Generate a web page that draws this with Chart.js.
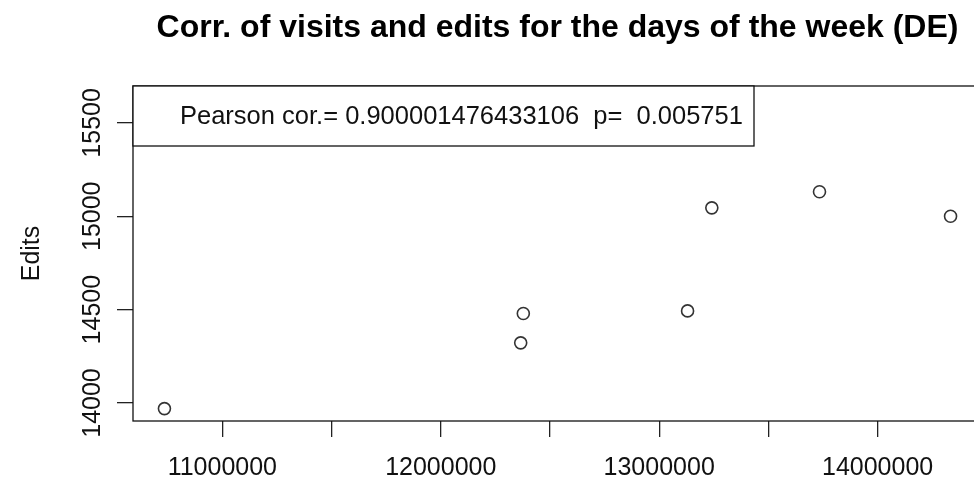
<!DOCTYPE html>
<html>
<head>
<meta charset="utf-8">
<script src="https://cdn.jsdelivr.net/npm/chart.js@4"></script>
<style>
  html, body { margin: 0; padding: 0; background: #fff; overflow: hidden; }
  #wrap { width: 1000px; height: 479px; }
</style>
</head>
<body>
<div id="wrap"><canvas id="chart-corr" width="1000" height="479"></canvas></div>
<script>
// Data
var visits = [10735000, 12366000, 12378000, 13130000, 13241000, 13734000, 14334000];
var edits  = [13970, 14322, 14479, 14493, 15045, 15131, 15000];
var xTickMarks = [11000000, 11500000, 12000000, 12500000, 13000000, 13500000, 14000000];
var xTicks = [11000000, 12000000, 13000000, 14000000];
var yTicks = [14000, 14500, 15000, 15500];
var titleText  = 'Corr. of visits and edits for the days of the week (DE)';
var legendText = 'Pearson cor.= 0.900001476433106  p=  0.005751';
var yLabel = 'Edits';

// R style limits: 4% beyond the range, y with room for the legend
var xr = Math.max.apply(null, visits) - Math.min.apply(null, visits);
var xMin = Math.min.apply(null, visits) - 0.04 * xr;
var xMax = Math.max.apply(null, visits) + 0.04 * xr;
var yLo = Math.min.apply(null, edits), yHi = Math.max.apply(null, edits) + 500;
var yMin = yLo - 0.04 * (yHi - yLo);
var yMax = yHi + 0.04 * (yHi - yLo);

var FONT = '"Liberation Sans", Arial, sans-serif';

var rPlot = {
  id: 'rPlot',
  afterDraw: function(chart) {
    var ctx = chart.ctx, a = chart.chartArea, y = chart.scales.y;
    ctx.save();
    // box
    ctx.strokeStyle = '#111';
    ctx.lineWidth = 1.3;
    ctx.strokeRect(a.left, a.top, a.right - a.left, a.bottom - a.top);

    // title
    ctx.fillStyle = '#000';
    ctx.font = 'bold 32px ' + FONT;
    ctx.textAlign = 'center';
    ctx.textBaseline = 'alphabetic';
    ctx.fillText(titleText, (a.left + a.right) / 2, 37);

    // y tick labels, rotated as in R
    ctx.font = '25px ' + FONT;
    ctx.fillStyle = '#111';
    yTicks.forEach(function(v) {
      ctx.save();
      ctx.translate(100, y.getPixelForValue(v));
      ctx.rotate(-Math.PI / 2);
      ctx.textAlign = 'center';
      ctx.fillText(String(v), 0, 0);
      ctx.restore();
    });

    // y axis title
    ctx.save();
    ctx.translate(39, (a.top + a.bottom) / 2);
    ctx.rotate(-Math.PI / 2);
    ctx.textAlign = 'center';
    ctx.fillText(yLabel, 0, 0);
    ctx.restore();

    // legend box
    ctx.fillStyle = '#fff';
    ctx.fillRect(a.left, a.top, 621, 60);
    ctx.strokeRect(a.left, a.top, 621, 60);
    ctx.fillStyle = '#111';
    ctx.textAlign = 'left';
    ctx.font = '25.5px ' + FONT;
    ctx.fillText(legendText, 180, 124);
    ctx.restore();
  }
};

var corrChart = new Chart(document.getElementById('chart-corr').getContext('2d'), {
  type: 'scatter',
  data: {
    datasets: [{
      label: 'days',
      data: visits.map(function(v, i) { return { x: v, y: edits[i] }; }),
      pointStyle: 'circle',
      pointRadius: 6,
      pointBorderWidth: 1.6,
      borderColor: '#333',
      backgroundColor: 'rgba(0,0,0,0)'
    }]
  },
  options: {
    responsive: false,
    maintainAspectRatio: false,
    animation: false,
    layout: { padding: { top: 86, right: 18, left: 0, bottom: 0 } },
    plugins: { legend: { display: false }, tooltip: { enabled: false }, title: { display: false } },
    scales: {
      x: {
        type: 'linear',
        min: xMin,
        max: xMax,
        afterFit: function(s) { s.height = 58; },
        afterBuildTicks: function(s) { s.ticks = xTickMarks.map(function(v) { return { value: v }; }); },
        border: { display: false },
        grid: { drawOnChartArea: false, drawTicks: true, tickLength: 16, color: '#222', lineWidth: 1.3 },
        ticks: {
          autoSkip: false,
          maxRotation: 0,
          padding: 16,
          color: '#111',
          font: { family: FONT, size: 25 },
          callback: function(v) { return xTicks.indexOf(v) >= 0 ? String(v) : ''; }
        }
      },
      y: {
        type: 'linear',
        min: yMin,
        max: yMax,
        afterFit: function(s) { s.width = 133; },
        afterBuildTicks: function(s) { s.ticks = yTicks.map(function(v) { return { value: v }; }); },
        border: { display: false },
        grid: { drawOnChartArea: false, drawTicks: true, tickLength: 16, color: '#222', lineWidth: 1.3 },
        ticks: { display: false }
      }
    }
  },
  plugins: [rPlot]
});
</script>
</body>
</html>
